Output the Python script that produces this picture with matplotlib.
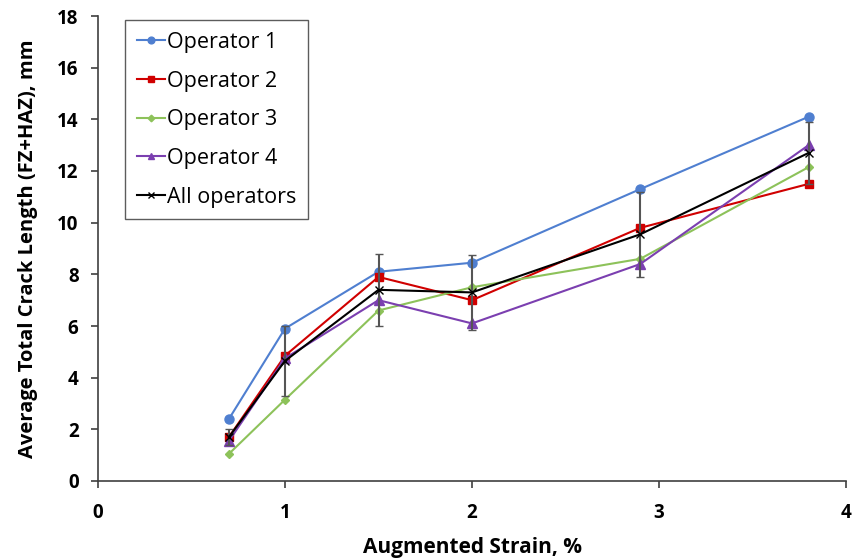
import matplotlib
matplotlib.use("Agg")
import matplotlib.pyplot as plt

plt.rcParams['font.family'] = ['Open Sans', 'DejaVu Sans']

strain = [0.7, 1.0, 1.5, 2.0, 2.9, 3.8]
op1 = [2.4, 5.9, 8.1, 8.45, 11.3, 14.1]
op2 = [1.7, 4.85, 7.9, 7.0, 9.8, 11.5]
op3 = [1.05, 3.15, 6.6, 7.5, 8.6, 12.15]
op4 = [1.55, 4.75, 7.0, 6.1, 8.4, 13.0]
allops = [1.7, 4.65, 7.4, 7.3, 9.55, 12.7]
all_err = [0.3, 1.35, 1.4, 1.45, 1.65, 1.2]

fig = plt.figure(figsize=(8.56, 5.58), dpi=100)
ax = fig.add_axes([98/856, 1-481/558, (846-98)/856, (481-16)/558])

ax.plot(strain, op1, color='#4F7FD0', marker='o', ms=6.5, lw=1.5, label='Operator 1')
ax.plot(strain, op2, color='#D00000', marker='s', ms=6, lw=1.5, label='Operator 2')
ax.plot(strain, op3, color='#8DC25A', marker='D', ms=4.5, lw=1.5, label='Operator 3')
ax.plot(strain, op4, color='#7B3FB0', marker='^', ms=6.5, lw=1.5, label='Operator 4')
ax.errorbar(strain, allops, yerr=all_err, fmt='none', ecolor='#555555', elinewidth=1.5,
            capsize=3)
ax.plot(strain, allops, color='black', marker='x', ms=6, lw=1.5, label='All operators')

ax.set_xlim(0, 4)
ax.set_ylim(0, 18)
ax.set_xticks([0, 1, 2, 3, 4])
ax.set_yticks(range(0, 19, 2))
ax.tick_params(labelsize=13.5, direction='out', length=5, color='#404040', width=1.2)
ax.tick_params(axis='x', pad=11)
ax.tick_params(axis='y', pad=9)
for lab in ax.get_xticklabels() + ax.get_yticklabels():
    lab.set_fontweight('bold')
for s in ['top', 'right']:
    ax.spines[s].set_visible(False)
for s in ['left', 'bottom']:
    ax.spines[s].set_color('#404040')
    ax.spines[s].set_linewidth(1.2)
ax.set_xlabel('Augmented Strain, %', fontsize=15, fontweight='bold', labelpad=10)
ax.set_ylabel('Average Total Crack Length (FZ+HAZ), mm', fontsize=14.5, fontweight='bold', labelpad=14)

leg = ax.legend(loc='upper left', bbox_to_anchor=(0.036, 0.991), borderaxespad=0, fontsize=15.5,
                frameon=True, fancybox=False, edgecolor='#333333', handlelength=1.3,
                handletextpad=0.1, labelspacing=0.82, borderpad=0.55, markerscale=0.75)
leg.get_frame().set_linewidth(1.0)

fig.savefig('out.png', dpi=100)
